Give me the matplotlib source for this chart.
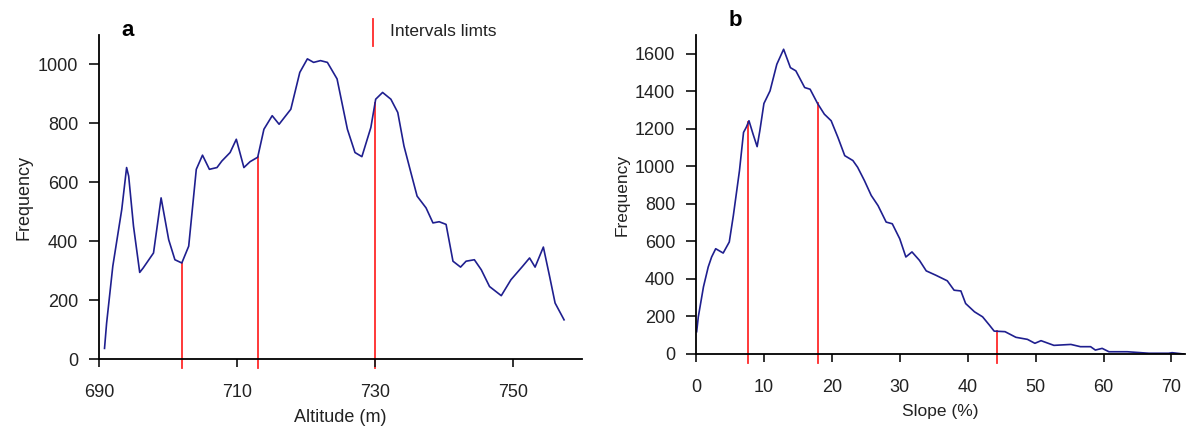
import matplotlib
matplotlib.use("Agg")
import matplotlib.pyplot as plt
import numpy as np

plt.rcParams['font.family'] = ['Liberation Sans', 'DejaVu Sans']

# panel a: altitude histogram
altitude = [690.8, 691.1, 692.0, 693.3, 694.0, 694.3, 695.0, 695.9, 696.4, 697.9,
            699.0, 700.1, 701.0, 702.0, 703.0, 704.1, 705.0, 706.0, 707.1, 707.8,
            709.0, 709.9, 711.0, 711.9, 713.0, 713.9, 715.1, 716.1, 717.8, 719.1,
            720.2, 721.1, 722.1, 723.1, 724.5, 726.0, 727.1, 728.1, 729.4, 730.1,
            731.1, 732.3, 733.3, 734.2, 735.2, 736.1, 737.4, 738.4, 739.3, 740.3,
            741.3, 742.4, 743.2, 744.4, 745.4, 746.6, 748.3, 749.7, 751.4, 752.4,
            753.2, 754.4, 755.3, 756.1, 757.4]
freq_alt = [36, 121, 315, 508, 650, 621, 451, 294, 309, 360,
            547, 405, 337, 326, 383, 644, 692, 644, 650, 672,
            701, 746, 650, 670, 685, 780, 826, 797, 848, 973,
            1019, 1007, 1013, 1007, 951, 780, 701, 687, 786, 882,
            905, 882, 837, 723, 633, 553, 513, 462, 466, 457,
            332, 312, 332, 337, 303, 246, 215, 269, 315, 343,
            312, 380, 281, 190, 133]
alt_limits = [702, 713, 730]

# panel b: slope histogram
slope = [0.1, 0.34, 1.1, 1.8, 2.3, 2.9, 4.0, 4.9, 5.5, 6.4,
         7.0, 7.4, 7.8, 8.4, 9.0, 9.4, 10.0, 10.9, 11.9, 12.9,
         13.9, 14.7, 16.0, 16.8, 17.9, 18.9, 19.9, 20.9, 21.9, 23.1,
         23.8, 24.8, 25.8, 26.8, 28.0, 28.9, 30.0, 30.9, 31.8, 32.9,
         33.9, 35.3, 37.0, 38.0, 39.0, 39.7, 41.0, 42.2, 43.2, 43.9,
         45.5, 47.1, 48.8, 49.9, 50.8, 52.7, 55.2, 56.6, 58.1, 58.8,
         59.8, 60.8, 63.5, 66.7, 69.6, 70.1, 71.8]
freq_slope = [119, 198, 358, 464, 517, 561, 538, 597, 738, 977,
              1181, 1208, 1243, 1172, 1105, 1190, 1335, 1402, 1544, 1624,
              1526, 1509, 1420, 1411, 1335, 1278, 1243, 1154, 1057, 1031,
              995, 924, 845, 791, 703, 694, 614, 517, 544, 499,
              443, 420, 390, 340, 336, 269, 225, 198, 154, 122,
              119, 89, 78, 57, 71, 46, 51, 39, 39, 21,
              30, 12, 12, 4, 4, 7, 0]
slope_limits = [7.7, 17.9, 44.3]

line_col = '#1f1f8f'
red = '#ff2a2a'

fig = plt.figure(figsize=(11.87, 4.34), dpi=100)
W, H = 1187, 434


def box(l, t, r, b):
    return [l / W, 1 - b / H, (r - l) / W, (b - t) / H]


def style(ax):
    for s in ['top', 'right']:
        ax.spines[s].set_visible(False)
    for s in ['left', 'bottom']:
        ax.spines[s].set_linewidth(1.3)
    ax.tick_params(axis='y', length=7, width=1.3, labelsize=13, pad=8, colors='#222222')
    ax.tick_params(axis='x', length=6, width=1.3, labelsize=13, pad=12, colors='#222222')


def limits(ax, xs, ys, lims):
    # red interval limits, from just below the axis up to the curve
    below = ax.get_ylim()[1] * 9 / ax.bbox.height
    for v in lims:
        top = np.interp(v, xs, ys)
        ax.plot([v, v], [-below, top], color=red, lw=1.3, clip_on=False, zorder=1)


# --- a ---
ax1 = fig.add_axes(box(99, 35, 582, 359))
ax1.plot(altitude, freq_alt, color=line_col, lw=1.2, zorder=2)
ax1.set_xlim(690, 760)
ax1.set_ylim(0, 1100)
ax1.set_xticks([690, 710, 730, 750])
ax1.set_yticks(range(0, 1001, 200))
style(ax1)
limits(ax1, altitude, freq_alt, alt_limits)
ax1.set_xlabel('Altitude (m)', fontsize=13, labelpad=6, color='#222222')
ax1.set_ylabel('Frequency', fontsize=13, labelpad=4, color='#222222')
fig.text(128 / W, 1 - 30 / H, 'a', fontsize=16, fontweight='bold', ha='center', va='center')

# legend for limit lines
fig.add_artist(plt.Line2D([373 / W, 373 / W], [1 - 46 / H, 1 - 19 / H], color=red, lw=1.3))
fig.text(390 / W, 1 - 31 / H, 'Intervals limts', fontsize=12.5, va='center', color='#222222')

# --- b ---
ax2 = fig.add_axes(box(696, 35, 1185, 354))
ax2.plot(slope, freq_slope, color=line_col, lw=1.2, zorder=2)
ax2.set_xlim(0, 72)
ax2.set_ylim(0, 1700)
ax2.set_xticks(range(0, 71, 10))
ax2.set_yticks(range(0, 1601, 200))
style(ax2)
limits(ax2, slope, freq_slope, slope_limits)
ax2.set_xlabel('Slope (%)', fontsize=12.5, labelpad=6, color='#222222')
ax2.set_ylabel('Frequency', fontsize=12.5, labelpad=4, color='#222222')
fig.text(735 / W, 1 - 20 / H, 'b', fontsize=16, fontweight='bold', ha='center', va='center')

fig.savefig('out.png', dpi=100)
